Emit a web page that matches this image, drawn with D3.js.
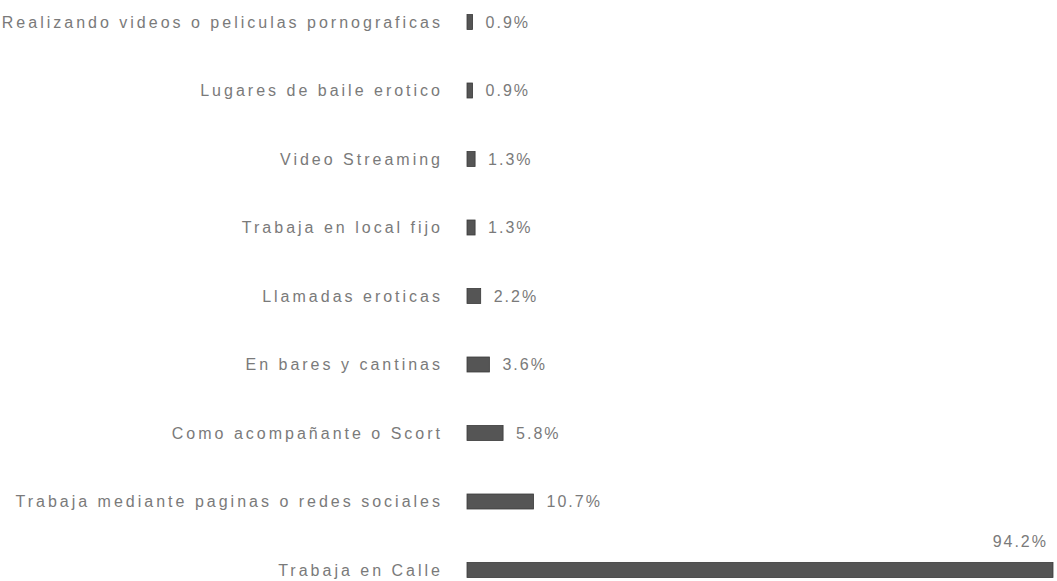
<!DOCTYPE html>
<html>
<head>
<meta charset="utf-8">
<script src="https://cdn.jsdelivr.net/npm/d3@7"></script>
<style>
  body { margin: 0; background: #fff; }
  svg { display: block; }
  text { font-family: "Liberation Sans", Arial, sans-serif; fill: #7a7a7a; }
</style>
</head>
<body>
<svg id="chart" width="1057" height="581"></svg>
<script>
const categories = [
  'Realizando videos o peliculas pornograficas',
  'Lugares de baile erotico',
  'Video Streaming',
  'Trabaja en local fijo',
  'Llamadas eroticas',
  'En bares y cantinas',
  'Como acompañante o Scort',
  'Trabaja mediante paginas o redes sociales',
  'Trabaja en Calle'
];
const values = [0.9, 0.9, 1.3, 1.3, 2.2, 3.6, 5.8, 10.7, 94.2];
const valueLabels = ['0.9%', '0.9%', '1.3%', '1.3%', '2.2%', '3.6%', '5.8%', '10.7%', '94.2%'];

const left = 467;

const svg = d3.select('#chart');

const x = d3.scaleLinear()
  .domain([0, 94.2])
  .range([left, 1053]);

// band centres run from about 22 to 570
const y = d3.scalePoint()
  .domain(categories)
  .range([22, 570]);

const rows = svg.selectAll('g.row')
  .data(categories)
  .join('g')
  .attr('class', 'row');

rows.append('rect')
  .attr('x', x(0))
  .attr('y', d => y(d) - 7.5)
  .attr('width', (d, i) => x(values[i]) - x(0))
  .attr('height', 15)
  .attr('fill', '#555')
  .attr('stroke', '#3a3a3a')
  .attr('stroke-width', 0.8);

rows.append('text')
  .attr('x', left - 24)
  .attr('y', d => y(d))
  .attr('dy', '0.35em')
  .attr('text-anchor', 'end')
  .attr('font-size', 16)
  .attr('letter-spacing', 3)
  .text(d => d);

const last = values.length - 1;
rows.append('text')
  .attr('x', (d, i) => i === last ? x(values[i]) - 5 : x(values[i]) + 13)
  .attr('y', (d, i) => y(d) + (i === last ? -29 : 0))
  .attr('dy', '0.35em')
  .attr('text-anchor', (d, i) => i === last ? 'end' : 'start')
  .attr('font-size', 16)
  .attr('letter-spacing', 2)
  .text((d, i) => valueLabels[i]);
</script>
</body>
</html>
